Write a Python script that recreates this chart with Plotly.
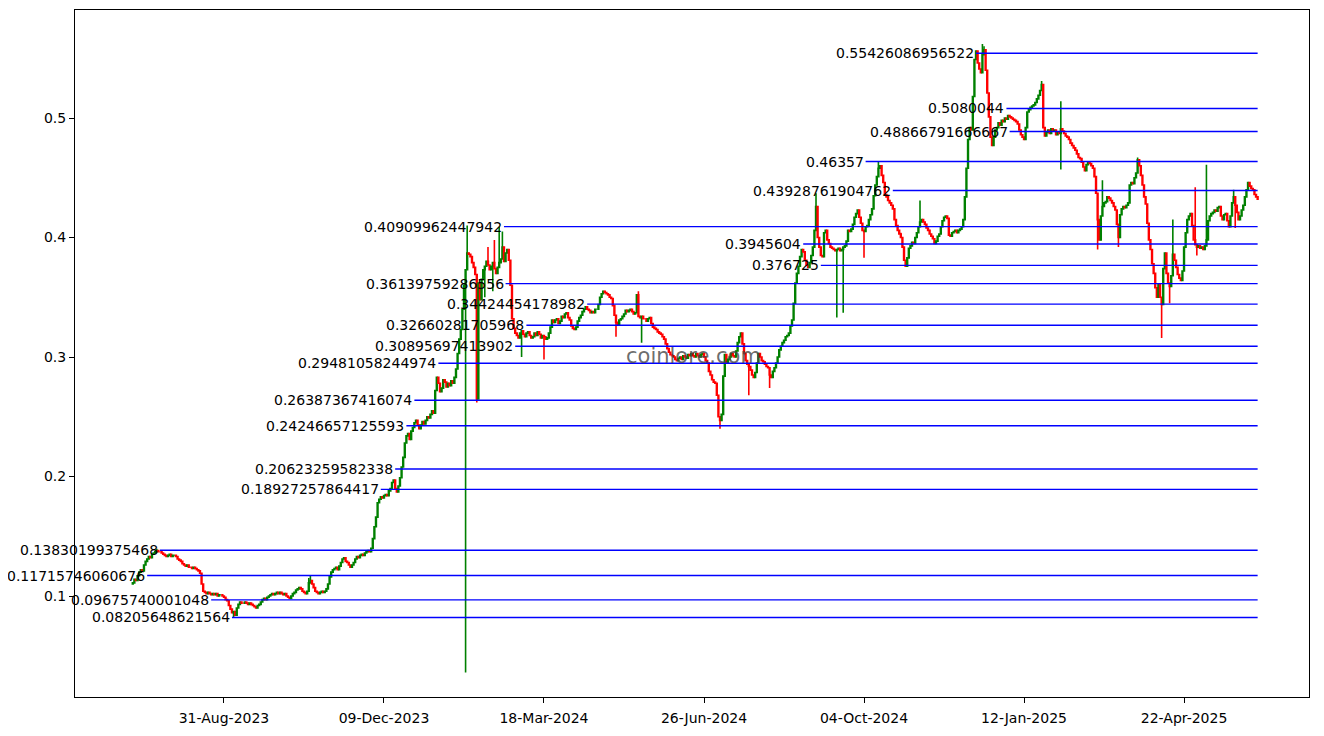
import pandas as pd
import plotly.graph_objects as go

# ---------------- data ----------------
start_date = "2023-07-05"
first_open = 0.110

closes = [
    .111, .114, .113, .117, .120, .122, .121, .126, .129, .131,
    .133, .132, .135, .136, .137, .138, .137, .137, .136, .135,
    .134, .133, .134, .135, .133, .134, .134, .133, .131, .130,
    .129, .127, .126, .125, .126, .124, .124, .123, .124, .123,
    .122, .121, .119, .110, .104, .103, .102, .103, .102, .101,
    .102, .101, .102, .100, .101, .101, .100, .099, .097, .096,
    .092, .089, .086, .087, .084, .090, .093, .095, .094, .094,
    .095, .094, .093, .094, .093, .092, .091, .090, .092, .093,
    .095, .097, .098, .097, .099, .100, .101, .102, .101, .102,
    .103, .102, .103, .102, .101, .102, .100, .099, .098, .100,
    .102, .103, .105, .106, .107, .106, .104, .103, .102, .104,
    .111, .113, .110, .107, .104, .103, .102, .103, .104, .103,
    .104, .106, .110, .116, .120, .122, .123, .124, .122, .125,
    .128, .131, .132, .129, .128, .126, .124, .126, .128, .131,
    .133, .132, .134, .135, .134, .136, .137, .138, .137, .140,
    .148, .158, .166, .178, .181, .183, .182, .184, .185, .184,
    .188, .190, .195, .197, .190, .187, .192, .199, .208, .216,
    .228, .234, .236, .231, .238, .241, .245, .247, .243, .240,
    .243, .246, .244, .247, .250, .249, .252, .255, .253, .272,
    .283, .278, .271, .274, .281, .279, .275, .278, .276, .280,
    .278, .283, .290, .303, .315, .323, .340, .360, .373, .387,
    .386, .384, .379, .375, .369, .265, .362, .348, .365, .373,
    .376, .380, .377, .373, .376, .379, .374, .370, .375, .379,
    .382, .392, .380, .387, .390, .381, .360, .332, .324, .320,
    .318, .316, .320, .322, .319, .317, .320, .321, .318, .316,
    .317, .320, .318, .321, .319, .316, .318, .317, .315, .316,
    .320, .325, .331, .329, .331, .332, .328, .330, .334, .333,
    .336, .337, .333, .331, .326, .324, .323, .325, .330, .333,
    .335, .338, .340, .342, .340, .339, .337, .338, .337, .340,
    .340, .344, .350, .353, .355, .354, .353, .352, .350, .349,
    .343, .335, .329, .327, .331, .332, .334, .336, .339, .338,
    .339, .340, .338, .336, .337, .352, .334, .333, .334, .332,
    .332, .330, .332, .333, .328, .325, .324, .323, .321, .320,
    .319, .317, .315, .311, .307, .304, .302, .301, .300, .298,
    .297, .299, .300, .298, .301, .300, .299, .302, .301, .303,
    .301, .300, .303, .301, .300, .302, .303, .300, .297, .295,
    .288, .285, .281, .279, .278, .268, .250, .247, .252, .284,
    .302, .295, .298, .300, .303, .301, .300, .305, .312, .317,
    .320, .311, .303, .297, .294, .292, .289, .285, .283, .287,
    .295, .303, .300, .297, .296, .294, .292, .291, .285, .283,
    .288, .291, .295, .300, .306, .309, .312, .314, .317, .318,
    .320, .326, .331, .345, .362, .370, .376, .384, .390, .388,
    .381, .377, .375, .379, .385, .392, .406, .426, .400, .392,
    .385, .384, .404, .406, .398, .395, .392, .391, .390, .389,
    .390, .391, .389, .390, .392, .393, .397, .406, .405, .407,
    .411, .417, .420, .423, .417, .412, .406, .405, .409, .410,
    .415, .419, .424, .435, .444, .451, .458, .460, .452, .446,
    .436, .434, .431, .429, .427, .424, .415, .410, .406, .403,
    .400, .392, .381, .376, .383, .391, .393, .396, .395, .400,
    .404, .409, .413, .415, .413, .411, .408, .406, .403, .401,
    .399, .395, .397, .401, .403, .409, .414, .417, .418, .416,
    .402, .401, .404, .405, .406, .404, .406, .407, .409, .415,
    .434, .458, .482, .492, .490, .518, .549, .556, .546, .541,
    .538, .553, .557, .540, .521, .501, .484, .477, .484, .490,
    .492, .496, .494, .498, .497, .500, .499, .502, .501, .500,
    .499, .498, .497, .495, .490, .486, .484, .482, .492, .505,
    .507, .509, .510, .511, .513, .516, .519, .523, .528, .492,
    .485, .488, .490, .487, .491, .489, .490, .486, .488, .487,
    .491, .489, .487, .485, .484, .482, .479, .477, .475, .473,
    .470, .467, .466, .463, .459, .456, .461, .463, .462, .460,
    .458, .451, .437, .415, .398, .418, .426, .429, .430, .434,
    .433, .431, .429, .426, .423, .411, .400, .419, .424, .426,
    .425, .427, .429, .444, .446, .445, .450, .454, .465, .460,
    .452, .444, .434, .428, .412, .398, .390, .378, .370, .358,
    .350, .361, .350, .344, .374, .387, .370, .362, .359, .368,
    .386, .381, .375, .369, .366, .364, .372, .392, .404, .415,
    .418, .420, .410, .398, .394, .392, .393, .391, .392, .390,
    .393, .398, .414, .418, .420, .421, .423, .422, .425, .426,
    .418, .415, .419, .420, .414, .409, .418, .429, .434, .427,
    .421, .415, .418, .423, .427, .434, .440, .446, .443, .441,
    .440, .436, .434, .432,
]

# notable wick extremes (day index -> price)
wick_highs = {15: .1395, 110: .115, 111: .117, 209: .410, 222: .392, 226: .398,
              229: .409, 231: .405, 316: .355, 427: .437, 480: .404, 492: .431,
              466: .4636, 531: .562, 532: .560, 568: .531, 580: .514,
              606: .448, 628: .467, 650: .415, 664: .442, 671: .461, 688: .440}
wick_lows = {63: .082, 208: .036, 215: .262, 220: .350, 225: .355, 243: .300,
             257: .298, 302: .317, 318: .312, 367: .240, 385: .268, 398: .274,
             440: .333, 444: .337, 457: .383, 580: .457, 603: .390, 616: .392,
             643: .316, 648: .345, 665: .385, 689: .408}

# support / resistance levels: (value, label, day index where the line starts)
levels = [
    (0.55426086956522, "0.55426086956522", 527),
    (0.5080044, "0.5080044", 546),
    (0.48866791666667, "0.48866791666667", 548),
    (0.46357, "0.46357", 458),
    (0.43928761904762, "0.43928761904762", 475),
    (0.40909962447942, "0.40909962447942", 232),
    (0.3945604, "0.3945604", 419),
    (0.376725, "0.376725", 430),
    (0.36139759286556, "0.36139759286556", 233),
    (0.34424454178982, "0.34424454178982", 284),
    (0.32660281705968, "0.32660281705968", 246),
    (0.30895697413902, "0.30895697413902", 239),
    (0.29481058244974, "0.29481058244974", 191),
    (0.26387367416074, "0.26387367416074", 176),
    (0.24246657125593, "0.24246657125593", 171),
    (0.20623259582338, "0.20623259582338", 164),
    (0.18927257864417, "0.18927257864417", 155),
    (0.13830199375468, "0.13830199375468", 17),
    (0.11715746060676, "0.11715746060676", 9),
    (0.09675740001048, "0.09675740001048", 49),
    (0.08205648621564, "0.08205648621564", 62),
]

tick_dates = ["2023-08-31", "2023-12-09", "2024-03-18", "2024-06-26",
              "2024-10-04", "2025-01-12", "2025-04-22"]
tick_labels = ["31-Aug-2023", "09-Dec-2023", "18-Mar-2024", "26-Jun-2024",
               "04-Oct-2024", "12-Jan-2025", "22-Apr-2025"]
y_ticks = [0.1, 0.2, 0.3, 0.4, 0.5]
watermark = "coinlore.com"

# ---------------- build ----------------
dates = pd.date_range(start_date, periods=len(closes), freq="D")
opens = [first_open] + closes[:-1]
highs = [max(o, c) for o, c in zip(opens, closes)]
lows = [min(o, c) for o, c in zip(opens, closes)]
for i, v in wick_highs.items():
    highs[i] = max(highs[i], v)
for i, v in wick_lows.items():
    lows[i] = min(lows[i], v)

fig = go.Figure()
fig.add_trace(go.Candlestick(
    x=dates, open=opens, high=highs, low=lows, close=closes,
    increasing=dict(line=dict(color="green", width=1.6), fillcolor="green"),
    decreasing=dict(line=dict(color="red", width=1.6), fillcolor="red"),
    whiskerwidth=0, showlegend=False, hoverinfo="skip",
))

last_date = dates[-1]
for val, lab, idx in levels:
    fig.add_trace(go.Scatter(x=[dates[idx], last_date], y=[val, val], mode="lines",
                             line=dict(color="#0000ff", width=1.4),
                             showlegend=False, hoverinfo="skip"))
    fig.add_annotation(x=dates[idx], y=val, text=lab, showarrow=False,
                       xanchor="right", yanchor="middle", xshift=0,
                       font=dict(family="DejaVu Sans", size=14, color="black"))

fig.add_annotation(x=0.501, y=0.497, xref="paper", yref="paper", text=watermark,
                   showarrow=False, xanchor="center", yanchor="middle",
                   font=dict(family="DejaVu Sans", size=21, color="rgba(70,70,70,0.8)"))

t0 = pd.Timestamp(tick_dates[0])
t1 = pd.Timestamp(tick_dates[-1])
x_left = t0 - pd.Timedelta(days=93.1)
x_right = t1 + pd.Timedelta(days=78.1)

fig.update_layout(
    width=1310, height=722,
    margin=dict(l=67, r=9, t=2, b=33),
    paper_bgcolor="white", plot_bgcolor="white",
    font=dict(family="DejaVu Sans", size=14, color="black"),
    showlegend=False,
    xaxis=dict(
        range=[x_left, x_right], rangeslider=dict(visible=False),
        tickvals=[pd.Timestamp(d) for d in tick_dates], ticktext=tick_labels,
        showgrid=False, zeroline=False, showline=True, mirror=True,
        linecolor="black", linewidth=1, ticks="outside", ticklen=5,
        tickcolor="black", tickfont=dict(size=14), ticklabelstandoff=3,
    ),
    yaxis=dict(
        range=[0.01548, 0.5904],
        tickvals=y_ticks, ticktext=[str(v) for v in y_ticks],
        showgrid=False, zeroline=False, showline=True, mirror=True,
        linecolor="black", linewidth=1, ticks="outside", ticklen=5,
        tickcolor="black", tickfont=dict(size=14),
    ),
)

fig.write_html("out.html")
